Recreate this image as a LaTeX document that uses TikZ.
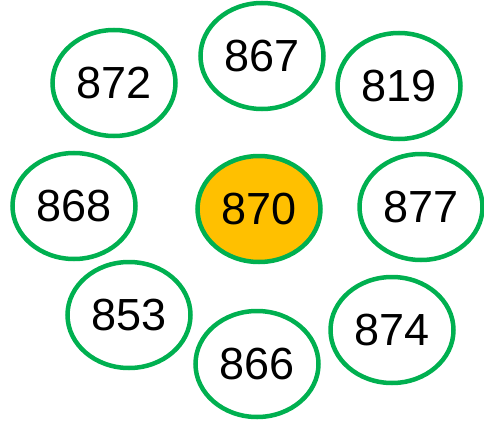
\documentclass[tikz,border=0pt]{standalone}
\usepackage{fontspec}
\setmainfont{Liberation Sans}
\usepackage{tikz}
\usetikzlibrary{shapes.geometric, positioning}
\definecolor{ringgreen}{HTML}{00B050}
\definecolor{centreorange}{HTML}{FFC000}

\begin{document}
\begin{tikzpicture}[x=1pt, y=-1pt, font=\fontsize{45}{48}\selectfont,
    numring/.style={draw=ringgreen, line width=4.5pt, ellipse, inner sep=0pt, minimum width=123pt, minimum height=106pt, fill=white},
    centre/.style={numring, fill=centreorange}]
    \useasboundingbox (0,0) rectangle (484,425);
    \node[centre] (n870) at (259,209) {870};
    \node[numring] (n867) at (262,56) {867};
    \node[numring] (n872) at (114,83) {872};
    \node[numring] (n819) at (399,86) {819};
    \node[numring] (n868) at (74,206) {868};
    \node[numring] (n877) at (421,207) {877};
    \node[numring] (n853) at (129,315) {853};
    \node[numring] (n866) at (257,364) {866};
    \node[numring] (n874) at (392,330) {874};
\end{tikzpicture}
\end{document}
